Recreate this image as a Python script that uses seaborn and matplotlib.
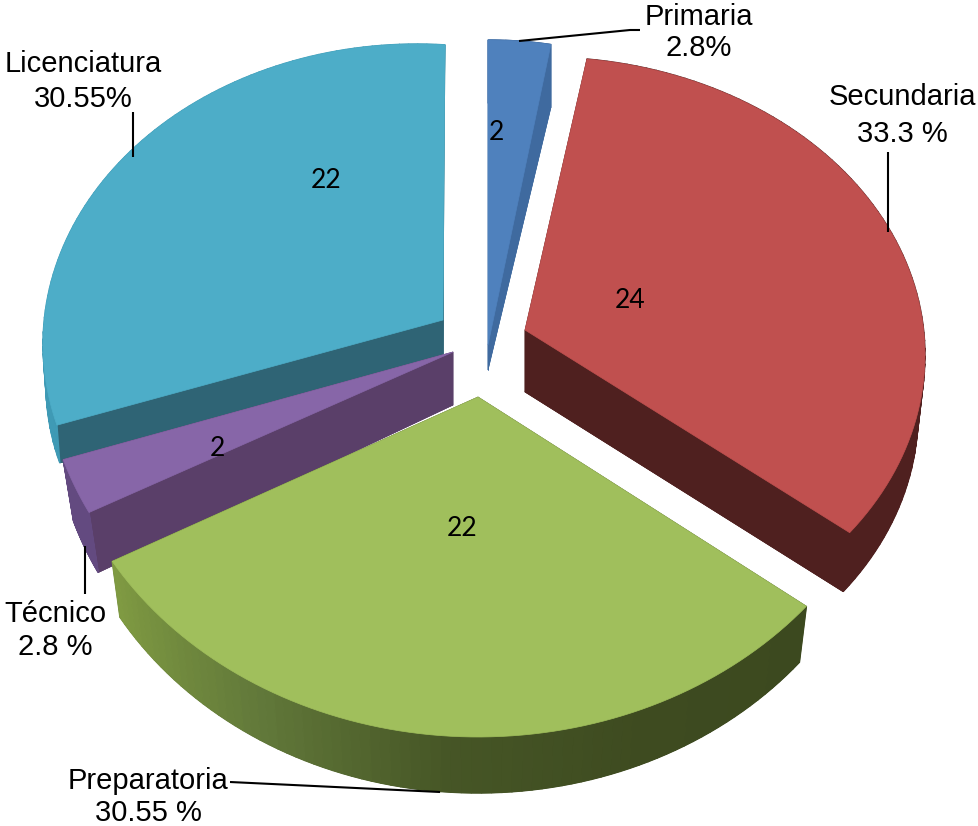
import numpy as np
import pandas as pd
import seaborn as sns
import matplotlib.pyplot as plt

# chart data
categories = ['Primaria', 'Secundaria', 'Preparatoria', 'Técnico', 'Licenciatura']
counts = [2, 24, 22, 2, 22]
pct_labels = ['2.8%', '33.3 %', '30.55 %', '2.8 %', '30.55%']

df = pd.DataFrame({'cat': categories, 'n': counts, 'pct': pct_labels})
df['start'] = df['n'].cumsum().shift(fill_value=0) / df['n'].sum() * 360
df['end'] = df['n'].cumsum() / df['n'].sum() * 360

# 3d look: apex, ellipse (cx, cy, rx, ry) for top and bottom faces, angle nudge
geom = {
    'Primaria': dict(top=(488, 345, 488, 340, 362, 300), bot=(488, 370, 488, 403, 362, 300), nudge=0),
    'Secundaria': dict(top=(525, 330, 543, 355, 382, 298), bot=(525, 392, 538, 414, 380, 298), nudge=-3.4),
    'Preparatoria': dict(top=(478, 397, 478, 379, 425, 358), bot=(478, 450, 478, 435, 416, 358), nudge=-0.6),
    'Técnico': dict(top=(453, 352, 393, 345, 351, 335), bot=(453, 405, 391, 408, 338, 329), nudge=0),
    'Licenciatura': dict(top=(443, 320, 417, 344, 374, 300), bot=(443, 380, 416, 385, 370, 288), nudge=4.3),
}
face_cols = {'Primaria': '#4f81bd', 'Secundaria': '#c0504f', 'Preparatoria': '#a0bf5c',
             'Técnico': '#8766a8', 'Licenciatura': '#4dadc8'}
wall_cols = {'Primaria': '#3f6a9f', 'Secundaria': '#4f201f', 'Preparatoria': '#3e4b20',
             'Técnico': '#5a3f69', 'Licenciatura': '#2f6475'}
rim_cols = {'Primaria': '#3f6a9f', 'Secundaria': '#4f201f', 'Técnico': '#634a80',
            'Licenciatura': '#3f9ab5'}
draw_order = ['Licenciatura', 'Primaria', 'Secundaria', 'Técnico', 'Preparatoria']

# label text positions: x, y of name line, y of percent line
label_xy = {'Primaria': (699, 17, 48), 'Secundaria': (902, 97, 134), 'Preparatoria': (148, 781, 813),
            'Técnico': (55, 614, 647), 'Licenciatura': (83, 64, 99)}
count_xy = {'Primaria': (496, 132), 'Secundaria': (630, 301), 'Preparatoria': (462, 528),
            'Técnico': (217, 448), 'Licenciatura': (326, 181)}
leaders = [([519, 630, 640], [41, 30, 30]),
           ([888, 888], [152, 232]),
           ([133, 133], [112, 157]),
           ([85, 85], [546, 594]),
           ([230, 440], [782, 792])]


def arc(face, t0, t1, nudge, k=80):
    _, _, cx, cy, rx, ry = face
    t = np.radians(np.linspace(t0, t1, k) + nudge)
    return cx + rx * np.sin(t), cy - ry * np.cos(t)


sns.set_theme(style='white')
plt.rcParams['font.family'] = ['Liberation Sans', 'DejaVu Sans']

fig = plt.figure(figsize=(9.79, 8.26), dpi=100)
ax = fig.add_axes([0, 0, 1, 1])
ax.set_xlim(0, 979)
ax.set_ylim(826, 0)
ax.axis('off')

green_rim = sns.blend_palette(['#7f9a42', '#62793a', '#465626', '#3e4b20', '#3c491f'], 79)

for name in draw_order:
    row = df[df['cat'] == name].iloc[0]
    g = geom[name]
    tx, ty = arc(g['top'], row['start'], row['end'], g['nudge'])
    bx, by = arc(g['bot'], row['start'], row['end'], g['nudge'])
    ta, ba = g['top'][:2], g['bot'][:2]
    wall = wall_cols[name]
    # bottom face
    ax.fill(np.r_[ba[0], bx], np.r_[ba[1], by], color=wall, lw=0.5)
    # radial walls
    ax.fill([ta[0], tx[0], bx[0], ba[0]], [ta[1], ty[0], by[0], ba[1]], color=wall, lw=0.5)
    ax.fill([ta[0], tx[-1], bx[-1], ba[0]], [ta[1], ty[-1], by[-1], ba[1]], color=wall, lw=0.5)
    # outer rim, one strip per step
    for i in range(len(tx) - 1):
        if name == 'Preparatoria':
            c = green_rim[len(tx) - 2 - i]
        else:
            c = rim_cols[name]
        ax.fill([tx[i], tx[i + 1], bx[i + 1], bx[i]], [ty[i], ty[i + 1], by[i + 1], by[i]],
                color=c, lw=1.0)
    # top face
    ax.fill(np.r_[ta[0], tx], np.r_[ta[1], ty], color=face_cols[name], lw=0.5)

for xs, ys in leaders:
    ax.plot(xs, ys, color='black', lw=1.5, solid_capstyle='butt')

for _, row in df.iterrows():
    x, y0, y1 = label_xy[row['cat']]
    ax.text(x, y0, row['cat'], ha='center', va='center', fontsize=21, color='black')
    ax.text(x, y1, row['pct'], ha='center', va='center', fontsize=21, color='black')
    x, y = count_xy[row['cat']]
    ax.text(x, y, str(row['n']), ha='center', va='center', fontsize=19,
            color='black', family=['Lato', 'DejaVu Sans'])

fig.savefig('out.png', dpi=100)
